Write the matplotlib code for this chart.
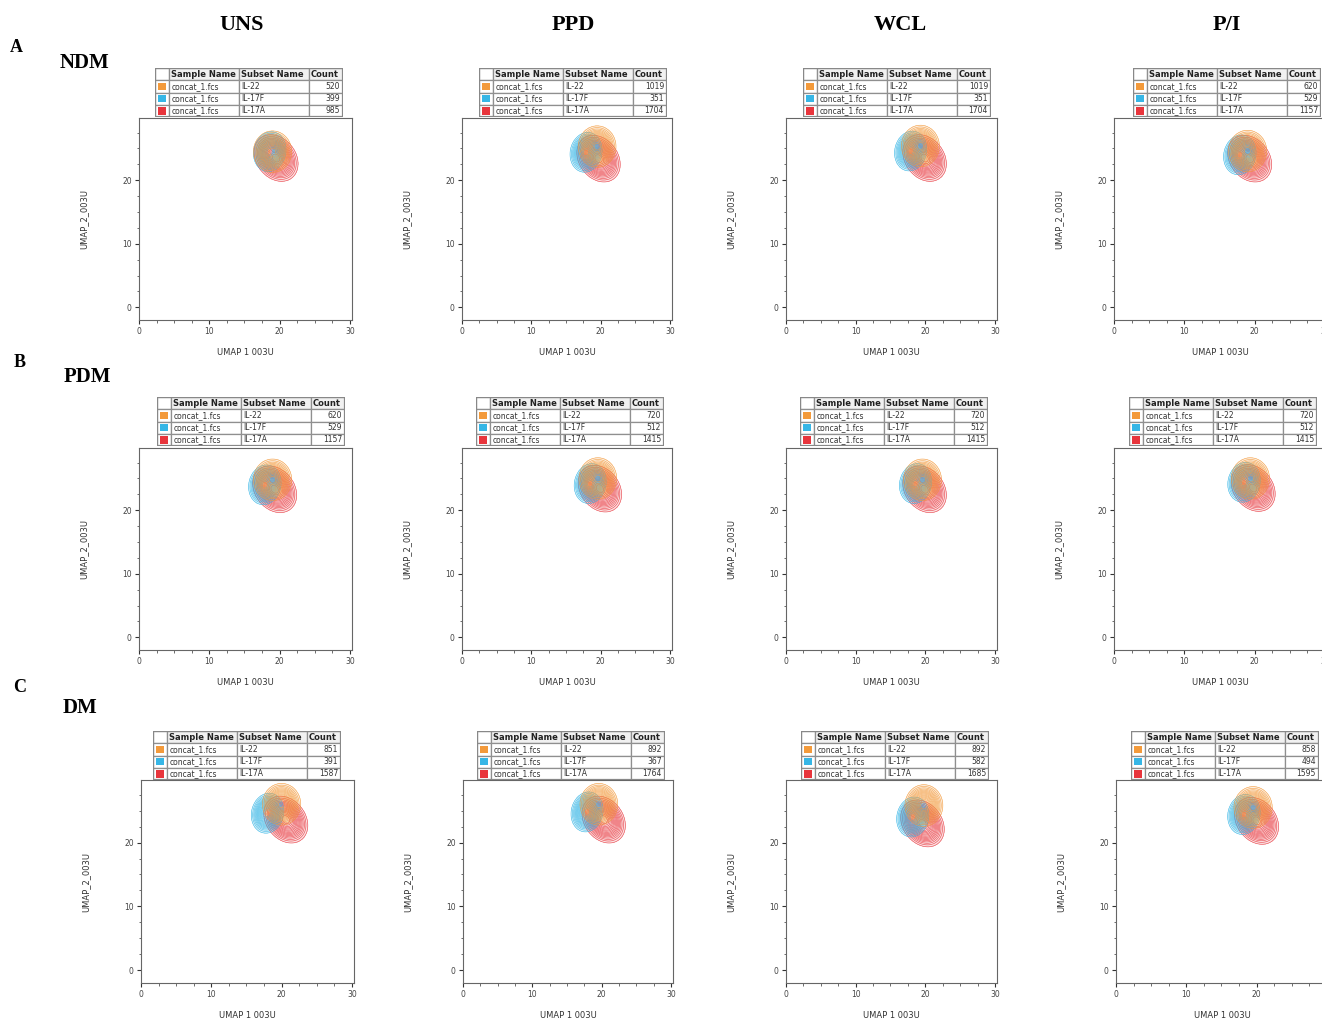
import numpy as np
import matplotlib
matplotlib.use('Agg')
from matplotlib import pyplot as plt
from matplotlib.patches import Rectangle

W, H = 1322, 1019

stims = ['UNS', 'PPD', 'WCL', 'P/I']
groups = ['NDM', 'PDM', 'DM']
letters = ['A', 'B', 'C']
subsets = ['IL-22', 'IL-17F', 'IL-17A']
sample_name = 'concat_1.fcs'
subset_colors = ['#f39a3b', '#36b6e6', '#e8353c']

# counts shown in the FlowJo legend tables (rows: NDM, PDM, DM; cols: UNS, PPD, WCL, P/I)
count_il22 = [[520, 1019, 1019, 620], [620, 720, 720, 720], [851, 892, 892, 858]]
count_il17f = [[399, 351, 351, 529], [529, 512, 512, 512], [391, 367, 582, 494]]
count_il17a = [[985, 1704, 1704, 1157], [1157, 1415, 1415, 1415], [1587, 1764, 1685, 1595]]

# approximate cluster centres
il22_x = [[19.0, 19.5, 19.3, 19.0], [19.0, 19.6, 19.6, 19.4], [20.0, 19.6, 19.8, 19.5]]
il22_y = [[24.5, 25.3, 25.4, 24.6], [24.8, 25.0, 24.8, 25.0], [26.0, 26.0, 25.8, 25.5]]
il17f_x = [[18.6, 17.9, 17.9, 17.9], [17.9, 18.5, 18.6, 18.5], [18.0, 17.9, 18.2, 18.2]]
il17f_y = [[24.5, 24.4, 24.6, 24.0], [24.0, 24.2, 24.2, 24.4], [24.6, 24.8, 24.0, 24.4]]
il17a_x = [[19.5, 19.7, 19.9, 19.3], [19.3, 19.9, 19.9, 19.8], [20.6, 20.3, 19.6, 20.0]]
il17a_y = [[23.5, 23.4, 23.5, 23.4], [23.3, 23.4, 23.3, 23.5], [23.6, 23.6, 23.0, 23.4]]

# cluster spreads (x, y) per subset
spread_x = [1.0, 0.85, 1.15]
spread_y = [1.2, 1.15, 1.35]
tilt = [0.0, 0.1, -0.25]

# panel geometry in pixels of the reference picture
col_left = [[139, 462, 786, 1114], [139, 462, 786, 1114], [141, 463, 786, 1116]]
col_width = [213, 210, 211, 213]
row_top = [118, 448, 780]
row_bottom = [320, 650, 983]
tab_left = [[155, 479, 803, 1133], [157, 476, 800, 1129], [153, 477, 801, 1131]]
tab_top = [68, 397, 731]


def density(xx, yy, cx, cy, sx, sy, rho):
    dx = (xx - cx) / sx
    dy = (yy - cy) / sy
    return np.exp(-(dx * dx - 2 * rho * dx * dy + dy * dy) / (2 * (1 - rho ** 2)))


def draw_table(fig, left, top, counts):
    w, h = 188, 49
    ax = fig.add_axes([left / W, 1 - (top + h) / H, w / W, h / H])
    ax.set_xlim(0, w)
    ax.set_ylim(h, 0)
    ax.axis('off')
    cw = [14, 70, 70, 34]
    cx = np.cumsum([0] + cw)
    rh = 12.25
    header = ['', 'Sample Name', 'Subset Name', 'Count']
    for j in range(4):
        ax.add_patch(Rectangle((cx[j], 0), cw[j], rh, facecolor='#f1f1f1' if j else 'white',
                               edgecolor='#8f8f8f', lw=0.9))
        if header[j]:
            ax.text(cx[j] + 2, rh / 2, header[j], fontsize=6.0, fontweight='bold',
                    va='center', ha='left', color='#222222')
    for i in range(3):
        y0 = rh * (i + 1)
        for j in range(4):
            ax.add_patch(Rectangle((cx[j], y0), cw[j], rh, facecolor='white',
                                   edgecolor='#8f8f8f', lw=0.9))
        ax.add_patch(Rectangle((3, y0 + 2.3), 8, 7.6, facecolor=subset_colors[i], edgecolor='none'))
        ax.text(cx[1] + 2.5, y0 + rh / 2 - 0.2, sample_name, fontsize=5.5, va='center', color='#333333')
        ax.text(cx[2] + 2.5, y0 + rh / 2 - 0.2, subsets[i], fontsize=5.5, va='center', color='#333333')
        ax.text(cx[4] - 3, y0 + rh / 2 - 0.2, str(counts[i]), fontsize=5.5, va='center', ha='right',
                color='#333333')
    ax.add_patch(Rectangle((0, 0), w, h, facecolor='none', edgecolor='#888888', lw=1.6))


fig = plt.figure(figsize=(W / 100, H / 100), dpi=100)
fig.patch.set_facecolor('white')

gx = np.linspace(10, 29, 280)
gy = np.linspace(14, 32, 280)
xx, yy = np.meshgrid(gx, gy)
levels = np.array([0.025, 0.045, 0.07, 0.1, 0.135, 0.175, 0.22, 0.27, 0.33, 0.4,
                   0.47, 0.55, 0.63, 0.72, 0.81, 0.9])

centres_x = [il22_x, il17f_x, il17a_x]
centres_y = [il22_y, il17f_y, il17a_y]
counts_all = [count_il22, count_il17f, count_il17a]

for r in range(3):
    for c in range(4):
        l = col_left[r][c]
        t = row_top[r]
        b = row_bottom[r]
        w = col_width[c]
        ax = fig.add_axes([l / W, 1 - b / H, w / W, (b - t) / H])
        for k in [2, 1, 0]:
            z = density(xx, yy, centres_x[k][r][c], centres_y[k][r][c],
                        spread_x[k], spread_y[k], tilt[k])
            ax.contourf(xx, yy, z, levels=[0.025, 1.1], colors=subset_colors[k], alpha=0.14)
            ax.contour(xx, yy, z, levels=levels, colors=subset_colors[k],
                       linewidths=0.45, alpha=0.85)
        ax.set_xlim(0, 30.3)
        ax.set_ylim(-2.0, 29.8)
        ax.set_xticks([0, 10, 20, 30])
        ax.set_yticks([0, 10, 20])
        ax.set_xticks(np.arange(0, 30.1, 2.5), minor=True)
        ax.set_yticks(np.arange(0, 29.8, 2.5), minor=True)
        ax.tick_params(which='major', length=3.2, width=0.8, labelsize=5.5, pad=2,
                       colors='#333333', labelcolor='#444444')
        ax.tick_params(which='minor', length=1.8, width=0.6, colors='#555555')
        for s in ax.spines.values():
            s.set_color('#666666')
            s.set_linewidth(0.8)
        ax.set_xlabel('UMAP 1 003U', fontsize=6, color='#333333')
        ax.set_ylabel('UMAP_2_003U', fontsize=6, color='#333333')
        ax.xaxis.set_label_coords(0.5, -28 / (b - t))
        ax.yaxis.set_label_coords(-51 / w, 0.5)

        counts = [counts_all[k][r][c] for k in range(3)]
        draw_table(fig, tab_left[r][c], tab_top[r], counts)

serif = ['Liberation Serif', 'DejaVu Serif']
head_x = [242, 573, 900, 1227]
for c in range(4):
    fig.text(head_x[c] / W, 1 - 25 / H, stims[c], fontsize=16, fontweight='bold',
             family=serif, ha='center', va='center')

letter_pos = [(16, 47), (20, 362), (20, 687)]
group_pos = [(84, 63), (87, 377), (80, 708)]
for r in range(3):
    fig.text(letter_pos[r][0] / W, 1 - letter_pos[r][1] / H, letters[r], fontsize=13,
             fontweight='bold', family=serif, ha='center', va='center')
    fig.text(group_pos[r][0] / W, 1 - group_pos[r][1] / H, groups[r], fontsize=15,
             fontweight='bold', family=serif, ha='center', va='center')

plt.savefig('out.png', dpi=100)
